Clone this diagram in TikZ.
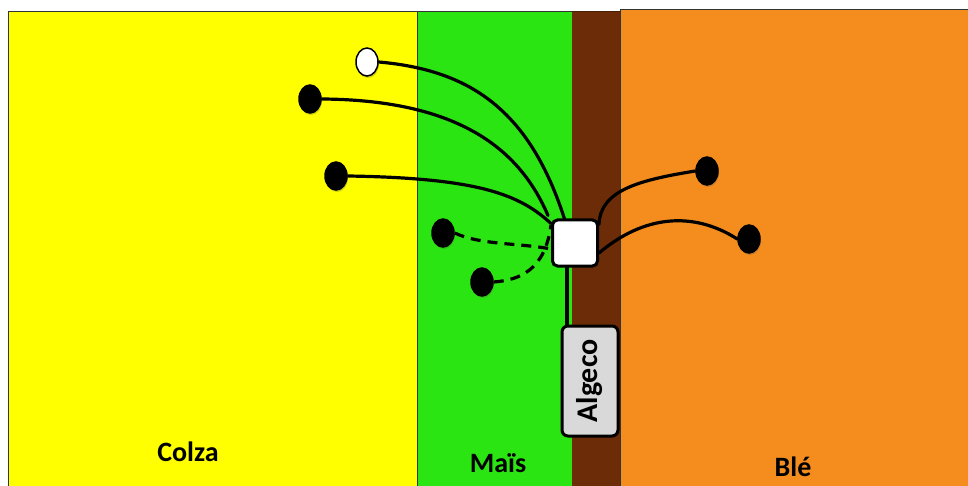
\documentclass[tikz,border=0pt]{standalone}
\usepackage{fontspec}
\setmainfont{Carlito}
\usetikzlibrary{shadows,shapes.geometric}
\pgfdeclarelayer{fields}
\pgfdeclarelayer{cables}
\pgfsetlayers{fields,cables,main}
\definecolor{colza}{HTML}{FFFF00}
\definecolor{mais}{HTML}{2AE512}
\definecolor{chemin}{HTML}{6B2C07}
\definecolor{ble}{HTML}{F58D1E}
\definecolor{algecofill}{HTML}{D9D9D9}
\tikzset{
  field/.style={draw=black!80, line width=1pt},
  capteur/.style={ellipse, draw=black, line width=1.5pt, fill=black, minimum width=22pt, minimum height=28pt, inner sep=0pt,
     drop shadow={shadow xshift=1pt, shadow yshift=-2pt, opacity=0.3, fill=black!70!yellow}},
  capteurw/.style={capteur, fill=white},
  cable/.style={line width=3.2pt, line cap=round},
  cabled/.style={cable, dash pattern=on 10pt off 7pt, line cap=butt},
  hub/.style={draw=black, line width=3pt, fill=white, rounded corners=5pt, minimum width=45pt, minimum height=46pt, inner sep=0pt},
  algeco/.style={draw=black, line width=3pt, fill=algecofill, rounded corners=6pt, minimum width=56pt, minimum height=110pt, inner sep=0pt},
  lab/.style={font=\bfseries\fontsize{28}{30}\selectfont, text=black}
}
\begin{document}
\begin{tikzpicture}[x=1pt,y=-1pt]
\useasboundingbox (0,0) rectangle (968,486);
\begin{pgfonlayer}{fields}
\fill[white] (0,0) rectangle (968,486);
\fill[colza] (8,12) rectangle (417,490);
\fill[mais] (417,12) rectangle (572,490);
\fill[chemin] (572,12) rectangle (620,490);
\fill[ble] (620,10) rectangle (970,490);
\draw[field] (8,490) -- (8,12) -- (417,12);
\draw[field] (417,12) -- (417,490);
\draw[field] (417,12) -- (572,12);
\draw[chemin!70!black, line width=1pt] (572,12) -- (620,12);
\draw[field] (620,490) -- (620,10) -- (970,10);
\end{pgfonlayer}
% labels
\node[lab] (colza) at (188,452) {Colza};
\node[lab] (mais) at (498,463) {Maïs};
\node[lab] (ble) at (793,467) {Blé};
% hub and algeco
\node[hub] (hub) at (575,243) {};
\node[algeco] (alg) at (590,381) {};
\node[rotate=90, font=\bfseries\fontsize{30}{32}\selectfont] (algtxt) at (alg.center) {Algeco};
% sensors
\node[capteurw] (w1) at (367,62) {};
\node[capteur] (b1) at (310,99) {};
\node[capteur] (b2) at (336,176) {};
\node[capteur] (b3) at (443,233) {};
\node[capteur] (b4) at (482,282) {};
\node[capteur] (b5) at (707,171) {};
\node[capteur] (b6) at (749,239) {};
% cables
\begin{pgfonlayer}{cables}
\coordinate (hubb) at ([xshift=-8pt]hub.south);
\coordinate (algt) at (hubb |- alg.north);
\draw[cable] (hubb) -- (algt);
\draw[cable] (w1.east) .. controls (470,70) and (530,110) .. ([xshift=-10pt,yshift=-2pt]hub.north);
\draw[cable] (b1.east) .. controls (460,100) and (520,150) .. ([xshift=-3pt,yshift=3pt]hub.north west);
\draw[cable] (b2.east) .. controls (480,178) and (520,195) .. ([yshift=-5pt]hub.north west);
\draw[cabled] (b3.east) .. controls (480,245) and (520,243) .. ([yshift=-6pt]hub.west);
\draw[cabled] (b4.east) .. controls (520,280) and (545,270) .. ([yshift=18pt]hub.west);
\draw[cable] ([yshift=-6pt]hub.north east) .. controls (600,190) and (640,180) .. (b5.west);
\draw[cable] ([yshift=-10pt]hub.east) .. controls (650,210) and (700,215) .. (b6.west);
\end{pgfonlayer}
\end{tikzpicture}
\end{document}
